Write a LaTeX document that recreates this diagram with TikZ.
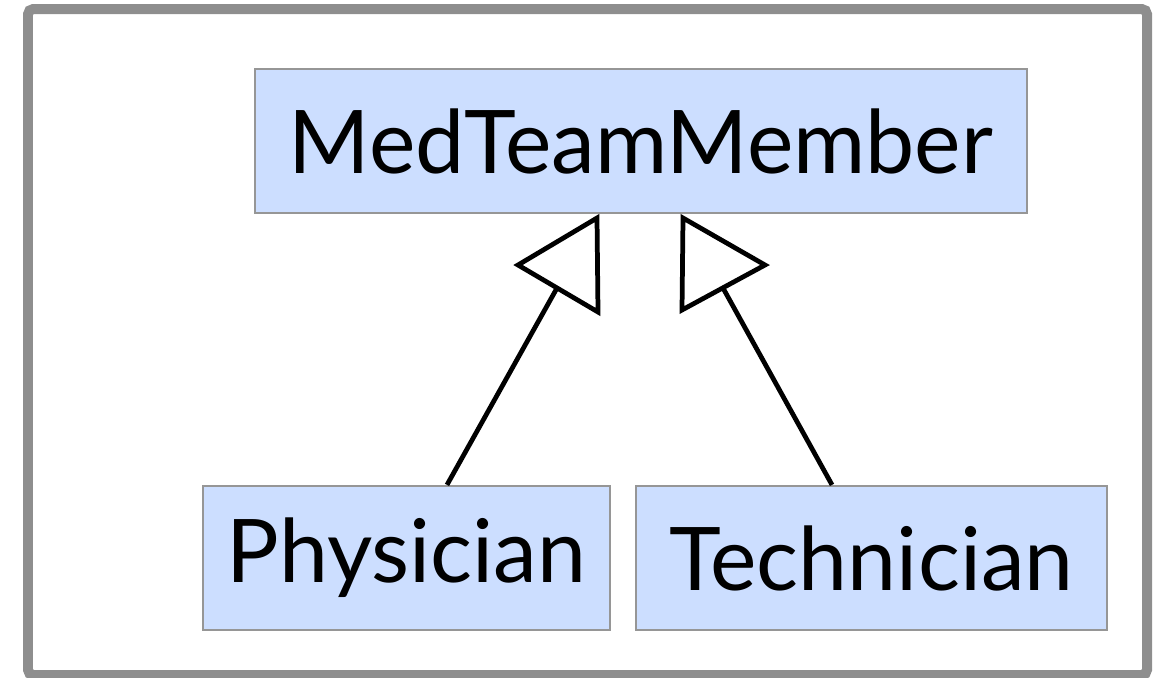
\documentclass[tikz,border=0pt]{standalone}
\usepackage{fontspec}
\setmainfont{Lato}
\definecolor{clsfill}{RGB}{204,222,255}
\definecolor{clsline}{RGB}{150,150,150}
\definecolor{framegray}{RGB}{142,142,142}
\begin{document}
\begin{tikzpicture}[x=0.02cm, y=-0.02cm,
  cls/.style={draw=clsline, line width=1.3pt, fill=clsfill, inner sep=0pt,
    minimum height=2.88cm, font=\fontsize{50}{60}\selectfont},
  gen/.style={line width=2.7pt, line join=miter}]
  \useasboundingbox (0,0) rectangle (1165,677);
  % outer frame
  \draw[framegray, line width=0.2cm, rounded corners=3pt] (28,9) rectangle (1147,675);
  % classes
  \node[cls, minimum width=15.44cm] (member) at (641,141) {MedTeamMember};
  \node[cls, minimum width=8.14cm] (phys) at (406.5,558) {Physician};
  \node[cls, minimum width=9.42cm] (tech) at (871.5,558) {Technician};
  % generalisation heads
  \draw[gen] (597,218) -- (518,265) -- (598,312) -- cycle;
  \draw[gen] (683,218) -- (765,265) -- (682,310) -- cycle;
  \coordinate (physhead) at (557,288);
  \coordinate (techhead) at (723,288);
  % generalisation lines
  \draw[gen] ([xshift=0.81cm]phys.north) -- (physhead);
  \draw[gen] ([xshift=-0.79cm]tech.north) -- (techhead);
\end{tikzpicture}
\end{document}
